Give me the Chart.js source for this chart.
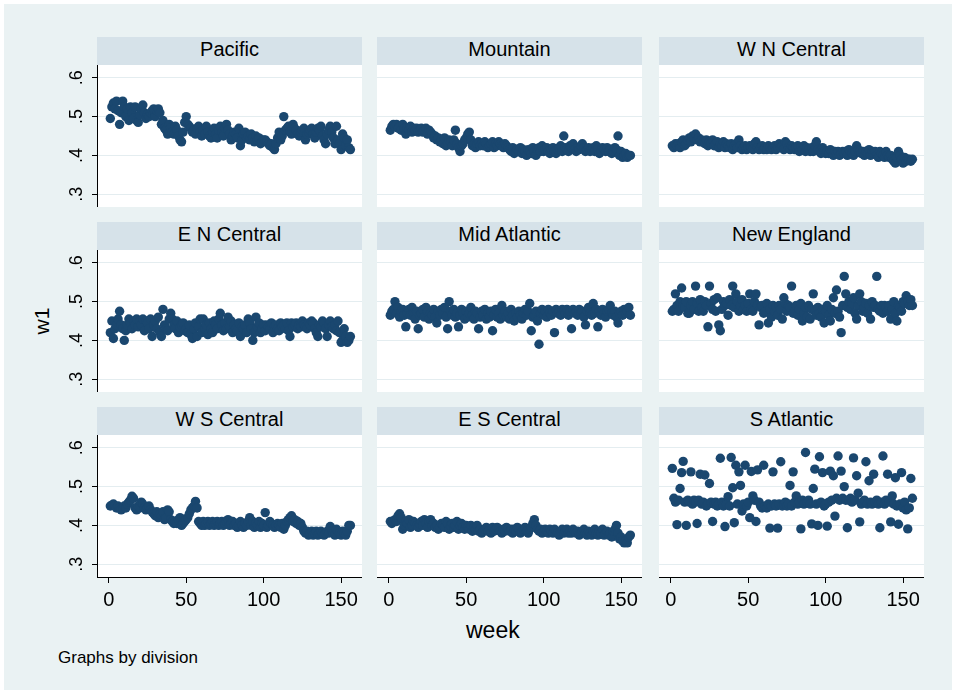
<!DOCTYPE html>
<html>
<head>
<meta charset="utf-8">
<script src="https://cdn.jsdelivr.net/npm/chart.js@4.4.1/dist/chart.umd.min.js"></script>
<style>
  body { margin: 0; background: #fff; font-family: "Liberation Sans", Arial, sans-serif; }
  #wrap { position: relative; width: 956px; height: 694px; overflow: hidden; }
  #graph { position: absolute; left: 4px; top: 4px; width: 948px; height: 686px; background: #eaf2f3; }
  .strip { position: absolute; background: #d6e2e9; text-align: center; font-size: 20px; line-height: 25px; color: #000; }
  .plot { position: absolute; background: #fff; }
  canvas { position: absolute; }
  .lbl { position: absolute; color: #000; white-space: nowrap; }
</style>
</head>
<body>
<div id="wrap">
  <div id="graph"></div>
  <div class="lbl" style="left:29px;top:309px;font-size:21px;transform:rotate(-90deg);transform-origin:center;">w1</div>
  <div class="lbl" style="left:466px;top:617px;font-size:23px;">week</div>
  <div class="lbl" style="left:58px;top:648px;font-size:17px;">Graphs by division</div>
</div>
<script>
const firstWeek = 1;
const divisions = ["Pacific", "Mountain", "W N Central", "E N Central", "Mid Atlantic",
  "New England", "W S Central", "E S Central", "S Atlantic"];

const pacific = [
  .495,.525,.535,.52,.54,.515,.48,.51,.54,.525,
  .50,.52,.49,.525,.51,.495,.525,.49,.485,.505,
  .52,.53,.51,.495,.505,.50,.51,.515,.52,.50,
  .515,.52,.51,.48,.49,.47,.465,.455,.48,.47,
  .46,.455,.475,.465,.45,.44,.435,.46,.485,.50,
  .48,.475,.47,.46,.465,.455,.47,.475,.46,.45,
  .465,.455,.475,.46,.45,.445,.46,.47,.455,.445,
  .465,.475,.46,.45,.47,.48,.465,.455,.44,.45,
  .46,.455,.445,.47,.425,.44,.455,.46,.445,.45,
  .44,.455,.445,.435,.45,.44,.445,.43,.435,.44,
  .44,.435,.43,.425,.43,.42,.415,.43,.445,.46,
  .44,.45,.50,.465,.47,.475,.46,.455,.48,.47,
  .465,.455,.45,.46,.465,.47,.44,.455,.46,.465,
  .47,.455,.445,.46,.47,.465,.475,.45,.44,.43,
  .455,.465,.475,.46,.445,.43,.475,.44,.43,.415,
  .455,.445,.425,.44,.42,.415];

const mountain = [
  .465,.475,.48,.475,.48,.47,.475,.465,.48,.47,
  .455,.47,.465,.475,.46,.47,.465,.47,.46,.465,
  .47,.46,.465,.47,.455,.465,.46,.455,.445,.45,
  .44,.445,.435,.44,.43,.445,.425,.43,.44,.435,
  .425,.44,.465,.43,.42,.41,.425,.43,.44,.445,
  .455,.46,.44,.425,.43,.42,.43,.435,.425,.43,
  .425,.435,.43,.42,.425,.43,.435,.42,.43,.425,
  .435,.43,.425,.42,.43,.425,.42,.415,.41,.42,
  .405,.41,.415,.41,.42,.405,.415,.41,.40,.415,
  .41,.405,.42,.41,.40,.415,.42,.41,.425,.41,
  .415,.42,.41,.405,.415,.42,.41,.405,.415,.42,
  .425,.41,.45,.42,.415,.41,.425,.42,.43,.415,
  .41,.42,.415,.425,.43,.42,.41,.415,.42,.41,
  .415,.42,.41,.425,.415,.405,.41,.42,.415,.41,
  .42,.41,.415,.405,.41,.42,.415,.45,.40,.41,
  .395,.40,.405,.395,.40,.40];

const wnCentral = [
  .425,.42,.43,.425,.43,.42,.435,.44,.425,.43,
  .44,.445,.435,.45,.445,.455,.44,.445,.435,.44,
  .435,.43,.44,.425,.435,.43,.44,.425,.43,.435,
  .42,.43,.425,.435,.42,.43,.425,.42,.43,.415,
  .425,.43,.42,.44,.425,.415,.42,.425,.415,.42,
  .425,.42,.415,.43,.435,.42,.415,.42,.425,.415,
  .42,.415,.425,.42,.415,.42,.425,.415,.42,.43,
  .42,.425,.415,.435,.43,.42,.415,.425,.42,.415,
  .42,.425,.41,.42,.415,.425,.41,.42,.415,.41,
  .42,.41,.425,.435,.415,.41,.405,.42,.41,.405,
  .41,.405,.415,.41,.40,.41,.405,.41,.40,.405,
  .41,.405,.41,.40,.415,.41,.405,.40,.41,.425,
  .415,.41,.405,.41,.40,.41,.405,.415,.40,.41,
  .405,.41,.40,.395,.41,.405,.40,.395,.41,.40,
  .395,.40,.39,.385,.38,.395,.41,.40,.39,.38,
  .395,.385,.39,.39,.385,.39];

const enCentral = [
  .42,.45,.405,.43,.44,.455,.475,.44,.43,.40,
  .425,.44,.455,.445,.43,.45,.44,.455,.435,.45,
  .44,.455,.425,.45,.445,.43,.455,.41,.44,.45,
  .43,.46,.42,.41,.48,.44,.43,.425,.455,.47,
  .455,.44,.43,.45,.42,.435,.44,.445,.425,.43,
  .42,.44,.415,.405,.43,.445,.41,.435,.455,.42,
  .455,.43,.44,.415,.445,.43,.42,.45,.44,.43,
  .455,.47,.44,.425,.445,.43,.46,.435,.45,.42,
  .44,.43,.425,.445,.41,.435,.43,.44,.42,.455,
  .445,.43,.40,.42,.46,.435,.445,.42,.43,.44,
  .425,.44,.435,.43,.445,.42,.435,.44,.43,.425,
  .445,.435,.44,.43,.445,.425,.41,.445,.435,.44,
  .445,.43,.44,.435,.45,.44,.435,.43,.445,.44,
  .45,.445,.43,.42,.41,.44,.435,.45,.445,.43,
  .41,.44,.45,.435,.43,.44,.425,.45,.42,.395,
  .40,.43,.41,.395,.40,.41];

const midAtlantic = [
  .465,.475,.48,.50,.47,.485,.46,.475,.48,.465,
  .435,.47,.48,.465,.485,.47,.455,.475,.43,.465,
  .47,.48,.46,.485,.475,.455,.47,.465,.48,.46,
  .445,.475,.465,.48,.47,.485,.46,.43,.50,.475,
  .465,.48,.46,.47,.435,.465,.48,.47,.455,.475,
  .46,.47,.485,.465,.455,.475,.47,.43,.46,.475,
  .465,.48,.455,.47,.46,.475,.425,.465,.48,.46,
  .47,.455,.49,.465,.475,.46,.47,.455,.48,.465,
  .45,.47,.46,.475,.465,.455,.47,.48,.465,.475,
  .495,.425,.46,.465,.475,.45,.39,.47,.48,.465,
  .475,.46,.48,.47,.465,.475,.42,.48,.47,.475,
  .465,.48,.475,.47,.48,.465,.475,.43,.48,.47,
  .475,.465,.48,.47,.475,.46,.44,.475,.485,.47,
  .465,.495,.47,.48,.435,.475,.465,.48,.47,.46,
  .475,.48,.49,.47,.465,.475,.46,.445,.47,.475,
  .465,.48,.47,.475,.485,.465];

const newEngland = [
  .475,.48,.52,.49,.475,.50,.535,.49,.485,.50,
  .47,.47,.49,.50,.48,.54,.495,.475,.505,.485,
  .475,.50,.49,.435,.54,.495,.48,.505,.475,.51,
  .44,.425,.48,.50,.49,.495,.465,.505,.49,.54,
  .485,.52,.50,.475,.49,.505,.48,.49,.475,.495,
  .52,.48,.475,.50,.52,.49,.44,.485,.49,.47,
  .475,.495,.445,.48,.46,.49,.475,.485,.465,.49,
  .48,.455,.51,.495,.475,.49,.485,.54,.47,.475,
  .49,.465,.48,.495,.45,.47,.485,.46,.49,.455,
  .48,.52,.475,.465,.485,.47,.46,.48,.445,.475,
  .49,.465,.45,.48,.51,.47,.53,.475,.46,.42,
  .49,.565,.52,.485,.50,.48,.495,.51,.47,.455,
  .49,.52,.50,.475,.485,.495,.47,.49,.455,.50,
  .485,.49,.565,.48,.475,.49,.47,.49,.485,.475,
  .49,.455,.48,.50,.47,.45,.49,.485,.475,.50,
  .495,.515,.50,.49,.505,.49];

const wsCentral = [
  .45,.452,.455,.45,.445,.45,.445,.44,.445,.45,
  .445,.455,.46,.465,.475,.47,.445,.44,.45,.445,
  .46,.455,.445,.44,.445,.45,.44,.435,.43,.425,
  .435,.42,.43,.425,.435,.415,.42,.44,.435,.415,
  .41,.405,.41,.405,.415,.42,.40,.405,.41,.415,
  .42,.43,.44,.445,.45,.462,.445,.41,.405,.40,
  .41,.40,.405,.41,.40,.405,.41,.40,.405,.41,
  .40,.405,.41,.40,.405,.41,.415,.40,.405,.41,
  .40,.405,.395,.40,.41,.40,.395,.405,.40,.41,
  .42,.40,.41,.395,.405,.40,.41,.395,.405,.40,
  .433,.395,.40,.41,.405,.40,.395,.40,.405,.40,
  .395,.405,.39,.40,.41,.415,.42,.425,.41,.415,
  .405,.41,.40,.405,.395,.385,.38,.385,.375,.38,
  .385,.375,.38,.385,.375,.38,.385,.38,.375,.38,
  .385,.38,.397,.385,.38,.375,.39,.385,.38,.375,
  .385,.38,.375,.385,.40,.40];

const esCentral = [
  .41,.405,.41,.415,.41,.425,.43,.42,.39,.40,
  .41,.405,.415,.395,.40,.41,.405,.40,.395,.405,
  .41,.40,.415,.405,.395,.41,.415,.40,.405,.395,
  .40,.39,.395,.405,.40,.395,.41,.405,.39,.40,
  .405,.395,.40,.41,.39,.40,.405,.395,.39,.40,
  .395,.39,.40,.385,.395,.39,.40,.385,.39,.38,
  .385,.39,.395,.385,.39,.38,.395,.385,.39,.395,
  .39,.385,.38,.39,.385,.395,.39,.385,.39,.38,
  .39,.385,.395,.39,.38,.385,.39,.395,.385,.38,
  .39,.395,.405,.415,.40,.39,.385,.39,.38,.385,
  .39,.385,.38,.39,.385,.38,.39,.385,.38,.375,
  .385,.39,.38,.385,.39,.38,.385,.38,.39,.385,
  .38,.385,.375,.38,.385,.39,.38,.375,.385,.38,
  .375,.385,.39,.38,.375,.385,.38,.39,.375,.38,
  .385,.375,.38,.37,.385,.39,.40,.38,.365,.37,
  .36,.355,.36,.355,.37,.375];

const sAtlantic = [
  .547,.47,.46,.402,.465,.495,.536,.565,.46,.40,
  .465,.46,.538,.455,.465,.46,.405,.465,.532,.455,
  .46,.53,.45,.455,.508,.46,.41,.455,.46,.45,
  .455,.573,.46,.45,.397,.455,.474,.45,.575,.497,
  .407,.555,.455,.538,.503,.437,.455,.555,.45,.46,
  .42,.539,.476,.465,.41,.543,.46,.45,.445,.555,
  .45,.445,.455,.393,.45,.538,.455,.45,.393,.455,
  .564,.45,.455,.46,.45,.455,.503,.45,.538,.46,
  .476,.455,.46,.391,.465,.455,.588,.46,.465,.455,
  .404,.495,.545,.455,.40,.577,.46,.536,.45,.455,
  .398,.46,.54,.465,.528,.424,.47,.579,.465,.54,
  .47,.50,.465,.394,.465,.47,.46,.574,.465,.528,
  .483,.409,.455,.46,.465,.564,.455,.515,.46,.455,
  .532,.46,.465,.455,.394,.46,.579,.455,.465,.532,
  .46,.409,.476,.455,.523,.45,.403,.455,.536,.445,
  .46,.44,.391,.445,.521,.47];

const series = [pacific, mountain, wnCentral, enCentral, midAtlantic,
  newEngland, wsCentral, esCentral, sAtlantic];

const yTicks = [.3, .4, .5, .6];
const yTickLabels = [".3", ".4", ".5", ".6"];
const xTicks = [0, 50, 100, 150];

// panel geometry (px)
const colLeft = [97, 377, 659];
const rowTop = [37, 222, 407];
const stripH = 28, plotW = 265, plotH = 142;
const navy = "#1a476f";
const font = "'Liberation Sans', Arial, sans-serif";

const wrap = document.getElementById("wrap");

function addBox(cls, x, y, w, h) {
  const d = document.createElement("div");
  d.className = cls;
  Object.assign(d.style, { left: x + "px", top: y + "px", width: w + "px", height: h + "px" });
  wrap.appendChild(d);
  return d;
}

// fixed axis sizes, no label overhang padding
function fixBox(s, w, h) {
  if (w !== null) s.width = w;
  if (h !== null) s.height = h;
  s.paddingTop = 0; s.paddingBottom = 0;
  s.paddingLeft = 0; s.paddingRight = 0;
}

divisions.forEach((name, k) => {
  const r = Math.floor(k / 3), c = k % 3;
  const left = colLeft[c], top = rowTop[r] + stripH;
  const showY = c === 0, showX = r === 2;
  const axL = showY ? 40 : 0, axB = showX ? 40 : 0;

  const strip = addBox("strip", left, rowTop[r], plotW, stripH);
  strip.textContent = name;
  addBox("plot", left, top, plotW, plotH);

  const canvas = document.createElement("canvas");
  canvas.width = plotW + axL;
  canvas.height = plotH + axB;
  canvas.style.left = (left - axL) + "px";
  canvas.style.top = top + "px";
  wrap.appendChild(canvas);

  const points = series[k].map((v, i) => ({ x: firstWeek + i, y: v }));

  new Chart(canvas, {
    type: "scatter",
    data: {
      datasets: [{
        data: points,
        pointRadius: 4.7,
        pointHoverRadius: 4.7,
        backgroundColor: navy,
        borderWidth: 0,
      }],
    },
    options: {
      responsive: false,
      animation: false,
      devicePixelRatio: 1,
      events: [],
      layout: { padding: 0, autoPadding: false },
      plugins: { legend: { display: false }, tooltip: { enabled: false } },
      scales: {
        x: {
          type: "linear",
          bounds: "data",
          min: -7.6,
          max: 163.5,
          display: showX,
          afterBuildTicks: (s) => { s.ticks = xTicks.map((v) => ({ value: v })); },
          afterFit: (s) => fixBox(s, null, axB),
          grid: { drawOnChartArea: false, tickLength: 6, tickColor: "#000", tickWidth: 1 },
          border: { color: "#000", width: 1 },
          ticks: { padding: 5, color: "#000", maxRotation: 0, autoSkip: false,
                   font: { family: font, size: 20 } },
        },
        y: {
          bounds: "data",
          min: 0.267,
          max: 0.633,
          afterBuildTicks: (s) => { s.ticks = yTicks.map((v) => ({ value: v })); },
          afterFit: (s) => fixBox(s, axL, null),
          grid: { color: "#e4edf0", lineWidth: 1, drawTicks: showY, tickLength: 5,
                  tickColor: "#000", tickWidth: 1 },
          border: { display: showY, color: "#000", width: 1 },
          ticks: {
            display: showY,
            minRotation: 90,
            maxRotation: 90,
            crossAlign: "center",
            padding: 7,
            color: "#000",
            font: { family: font, size: 18 },
            callback: (v, i) => yTickLabels[i],
          },
        },
      },
    },
  });
});
</script>
</body>
</html>
